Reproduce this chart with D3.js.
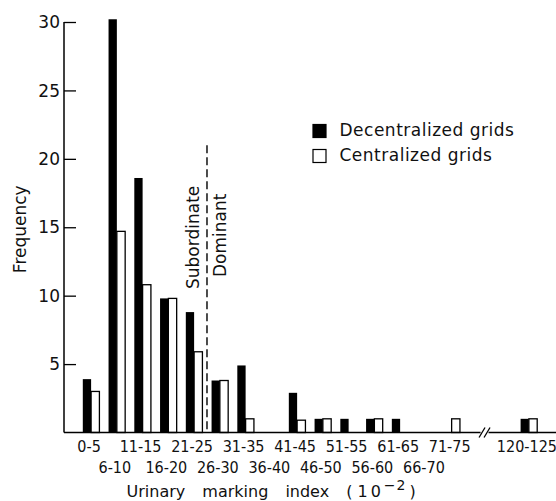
<!DOCTYPE html>
<html>
<head>
<meta charset="utf-8">
<script src="https://cdn.jsdelivr.net/npm/d3@7"></script>
<style>
  html, body { margin: 0; padding: 0; background: #fff; }
  svg { display: block; }
  text { fill: #111; }
</style>
</head>
<body>
<svg id="chart" width="556" height="501"></svg>
<script>
// --- DATA ---
const categories = ["0-5", "6-10", "11-15", "16-20", "21-25", "26-30", "31-35", "36-40",
  "41-45", "46-50", "51-55", "56-60", "61-65", "66-70", "71-75", "120-125"];
const decentralized = [3.9, 30.2, 18.6, 9.8, 8.8, 3.8, 4.9, 0, 2.9, 1, 1, 1, 1, 0, 0, 1];
const centralized   = [3, 14.7, 10.8, 9.8, 5.9, 3.8, 1, 0, 0.9, 1, 0, 1, 0, 0, 1, 1];
const yTicks = [5, 10, 15, 20, 25, 30];
const gapSlots = ["gap-a", "gap-b"]; // empty slots where the axis is broken
const seriesNames = ["Decentralized grids", "Centralized grids"];
const splitAfter = "21-25"; // Subordinate / Dominant divider

const svg = d3.select("#chart");
const W = 556, H = 501;
const leftX = 64, baseY = 432.5, topY = 22;

// --- SCALES ---
const xDomain = categories.slice(0, 15).concat(gapSlots, categories.slice(15));
const x = d3.scaleBand().domain(xDomain).range([leftX, W]).paddingInner(0.355).paddingOuter(0.73);
const y = d3.scaleLinear().domain([0, 30]).range([baseY, topY]);
const half = x.bandwidth() / 2;

const rows = categories.map((c, i) => ({ c, i, dec: decentralized[i], cen: centralized[i] }));

// --- BARS ---
const g = svg.append("g");
g.selectAll("rect.dec").data(rows.filter(d => d.dec > 0)).join("rect")
  .attr("class", "dec")
  .attr("x", d => x(d.c)).attr("width", half)
  .attr("y", d => y(d.dec)).attr("height", d => y(0) - y(d.dec))
  .attr("fill", "#000");

g.selectAll("rect.cen").data(rows.filter(d => d.cen > 0)).join("rect")
  .attr("class", "cen")
  .attr("x", d => x(d.c) + half).attr("width", half)
  .attr("y", d => y(d.cen)).attr("height", d => y(0) - y(d.cen))
  .attr("fill", "#fff").attr("stroke", "#000").attr("stroke-width", 1.3);

// --- Y AXIS ---
const yAxis = svg.append("g").attr("transform", `translate(${leftX},0)`)
  .call(d3.axisRight(y).tickValues(yTicks).tickSize(12).tickFormat(""));
yAxis.select(".domain").remove();
yAxis.selectAll("line").attr("stroke", "#000").attr("stroke-width", 1.3);
svg.append("line").attr("x1", leftX).attr("x2", leftX).attr("y1", y(30)).attr("y2", y(0))
  .attr("stroke", "#000").attr("stroke-width", 1.5);
svg.append("g").selectAll("text").data(yTicks).join("text")
  .attr("x", leftX - 4).attr("y", d => y(d)).attr("dy", "0.36em")
  .attr("text-anchor", "end")
  .style("font-family", "'DejaVu Sans', sans-serif").style("font-size", "17px")
  .text(d => d);

svg.append("text")
  .attr("transform", `translate(26,${(y(0) + y(30)) / 2 + 2}) rotate(-90)`)
  .attr("text-anchor", "middle")
  .style("font-family", "'DejaVu Sans', sans-serif").style("font-size", "17px")
  .text("Frequency");

// --- X AXIS (with break) ---
const breakX = x(gapSlots[1]) - x.step() * 0.4;
svg.append("line").attr("x1", leftX).attr("x2", breakX - 4).attr("y1", baseY).attr("y2", baseY)
  .attr("stroke", "#000").attr("stroke-width", 1.5);
svg.append("line").attr("x1", breakX + 4).attr("x2", W).attr("y1", baseY).attr("y2", baseY)
  .attr("stroke", "#000").attr("stroke-width", 1.5);
svg.append("g").selectAll("line").data([-2.5, 2.5]).join("line")
  .attr("x1", d => breakX + d - 3).attr("y1", baseY + 5)
  .attr("x2", d => breakX + d + 3).attr("y2", baseY - 5)
  .attr("stroke", "#000").attr("stroke-width", 1.3);

svg.append("g").selectAll("text").data(rows).join("text")
  .attr("x", d => x(d.c) + x.bandwidth() / 2 - 2)
  .attr("y", d => d.i % 2 === 0 || d.c === "120-125" ? 451.5 : 472.5)
  .attr("text-anchor", "middle")
  .style("font-family", "'Liberation Sans Narrow', 'DejaVu Sans Condensed', sans-serif")
  .style("font-stretch", "condensed")
  .style("font-size", "16px")
  .text(d => d.c);

const xt = svg.append("text")
  .attr("x", 126.5).attr("y", 496.5)
  .style("font-family", "'DejaVu Sans', sans-serif").style("font-size", "16px")
  .style("word-spacing", "12px");
xt.append("tspan").text("Urinary marking index (");
xt.append("tspan").attr("dx", 5).style("letter-spacing", "3px").text("10");
xt.append("tspan").attr("dx", 0).attr("dy", -7).style("font-size", "14px").style("letter-spacing", "1px").text("\u22122");
xt.append("tspan").attr("dx", 3).attr("dy", 7).text(")");

// --- DIVIDER ---
const divX = x(splitAfter) + x.bandwidth() + (x.step() - x.bandwidth()) / 2;
svg.append("line").attr("x1", divX).attr("x2", divX).attr("y1", y(21)).attr("y2", baseY)
  .attr("stroke", "#000").attr("stroke-width", 1.4).attr("stroke-dasharray", "8,4");
svg.append("text")
  .attr("transform", `translate(${divX - 7.5},289) rotate(-90)`)
  .style("font-family", "'DejaVu Sans', sans-serif").style("font-size", "17px")
  .text("Subordinate");
svg.append("text")
  .attr("transform", `translate(${divX + 19.5},277) rotate(-90)`)
  .style("font-family", "'DejaVu Sans', sans-serif").style("font-size", "17px")
  .text("Dominant");

// --- LEGEND ---
const legend = svg.append("g").attr("transform", "translate(313,124.5)");
const item = legend.selectAll("g").data(seriesNames).join("g")
  .attr("transform", (d, i) => `translate(0,${i * 25})`);
item.append("rect").attr("width", 13).attr("height", 13)
  .attr("fill", (d, i) => i === 0 ? "#000" : "#fff")
  .attr("stroke", "#000").attr("stroke-width", 1.2);
item.append("text").attr("x", 26.5).attr("y", 11.5)
  .style("font-family", "'DejaVu Sans', sans-serif").style("font-size", "17px")
  .style("letter-spacing", "0.5px")
  .text(d => d);
</script>
</body>
</html>
